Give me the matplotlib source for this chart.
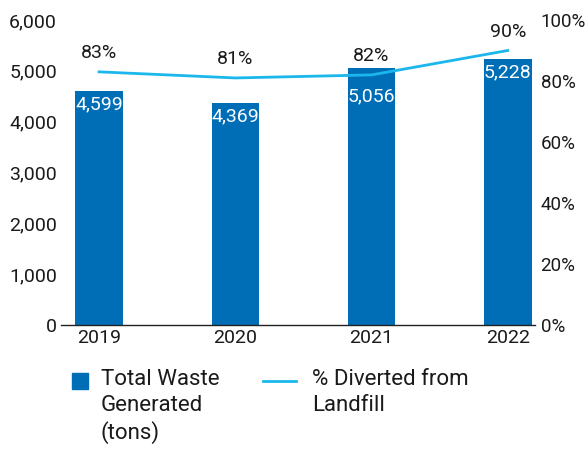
import matplotlib
matplotlib.use('Agg')
import matplotlib.pyplot as plt
from matplotlib.lines import Line2D
from matplotlib.patches import Rectangle
from matplotlib.ticker import FuncFormatter

plt.rcParams['font.family'] = ['Roboto', 'DejaVu Sans']

years = ['2019', '2020', '2021', '2022']
waste_tons = [4599, 4369, 5056, 5228]
diverted_pct = [83, 81, 82, 90]
legend_labels = ['Total Waste\nGenerated\n(tons)', '% Diverted from\nLandfill']

bar_color = '#006DB7'
line_color = '#1BB7EC'
text_color = '#1a1a1a'
# 2021's value sits lower so the line does not run through it
label_drop = [3, 3, 14, 3]

W, H = 586, 450
fig = plt.figure(figsize=(W / 100, H / 100), dpi=100)
ax = fig.add_axes([61 / W, 1 - 325 / H, 474 / W, 305 / H])
ax2 = ax.twinx()

x = list(range(len(years)))
ax.bar(x, waste_tons, width=0.35, color=bar_color, zorder=2)
for xi, v, d in zip(x, waste_tons, label_drop):
    ax.annotate('{:,}'.format(v), (xi, v), xytext=(0, -d), textcoords='offset points',
                ha='center', va='top', color='white', fontsize=14)

ax2.plot(x, diverted_pct, color=line_color, linewidth=2, zorder=3)
for xi, p in zip(x, diverted_pct):
    ax2.annotate('{}%'.format(p), (xi, p), xytext=(0, 7), textcoords='offset points',
                 ha='center', va='bottom', color=text_color, fontsize=14)

ax.set_xlim(-0.28, 3.2)
ax.set_ylim(0, 6000)
ax2.set_ylim(0, 100)
ax.set_xticks(x)
ax.set_xticklabels(years)
ax.set_yticks(range(0, 6001, 1000))
ax.yaxis.set_major_formatter(FuncFormatter(lambda v, pos: '{:,}'.format(int(v))))
ax2.set_yticks(range(0, 101, 20))
ax2.yaxis.set_major_formatter(FuncFormatter(lambda v, pos: '{}%'.format(int(v))))

for a in (ax, ax2):
    for s in ('top', 'right', 'left'):
        a.spines[s].set_visible(False)
    a.tick_params(length=0, labelsize=14, colors=text_color)
ax2.spines['bottom'].set_visible(False)
ax.spines['bottom'].set_color('#222222')
ax.spines['bottom'].set_linewidth(1)
ax.tick_params(axis='y', pad=3)
ax.tick_params(axis='x', pad=3)
ax2.tick_params(axis='y', pad=4, labelsize=13.5)

# legend below the plot, drawn by hand so the keys sit on the first text line
fig.patches.append(Rectangle((72 / W, 1 - 389 / H), 16 / W, 16 / H,
                             transform=fig.transFigure, color=bar_color))
fig.lines.append(Line2D([263 / W, 296 / W], [1 - 381 / H, 1 - 381 / H],
                        transform=fig.transFigure, color=line_color, linewidth=2))
fig.text(101 / W, 1 - 369 / H, legend_labels[0], ha='left', va='top', fontsize=16,
         color=text_color, linespacing=1.3)
fig.text(312 / W, 1 - 369 / H, legend_labels[1], ha='left', va='top', fontsize=16,
         color=text_color, linespacing=1.3)

fig.savefig('out.png', dpi=100)
